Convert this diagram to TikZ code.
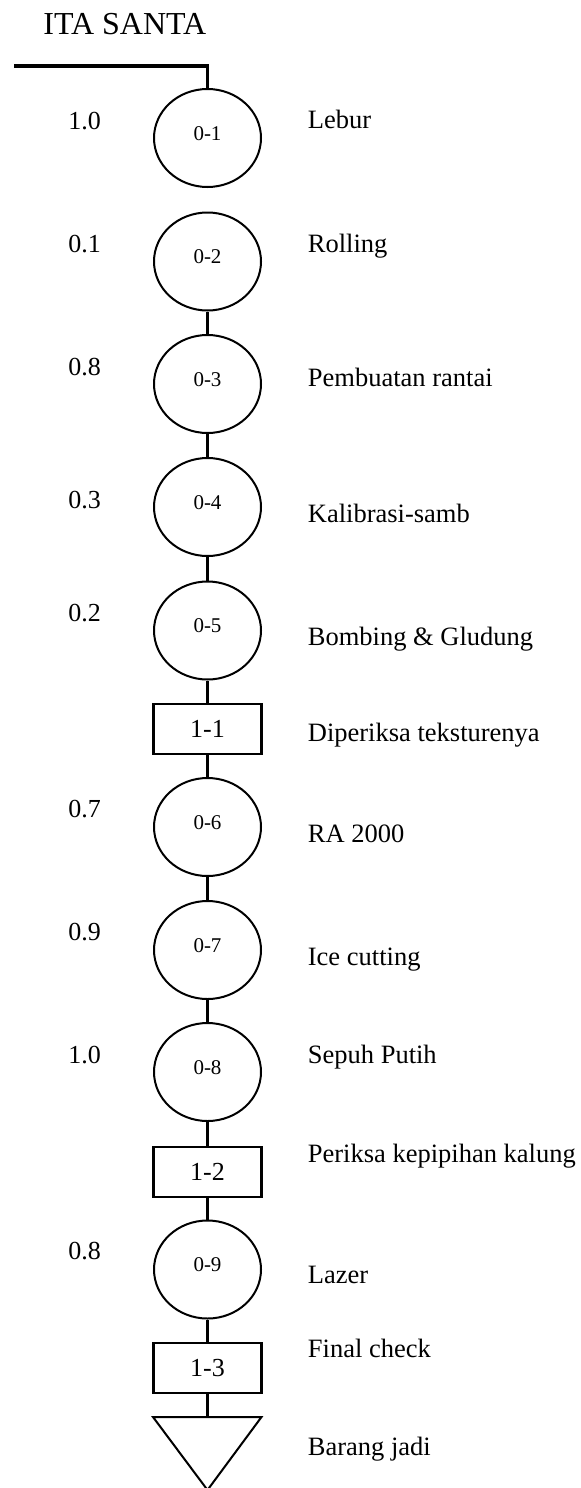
\documentclass[tikz,border=0pt]{standalone}
\usepackage{fontspec}
\setmainfont{Liberation Serif}
\usetikzlibrary{shapes.geometric}
\begin{document}
\begin{tikzpicture}[x=0.5pt,y=-0.5pt,
  proc/.style={ellipse,draw,line width=1pt,minimum width=53.5pt,minimum height=49pt,
    inner sep=0pt,text height=2pt,text depth=0pt,font=\fontsize{10.5}{12}\selectfont},
  insp/.style={rectangle,draw,line width=1.1pt,minimum width=54pt,minimum height=25pt,
    inner sep=0pt,font=\fontsize{13}{15}\selectfont},
  flow/.style={line width=1.8pt},
  timelbl/.style={anchor=base west,inner sep=0pt,font=\fontsize{13}{15}\selectfont},
  steplbl/.style={anchor=base west,inner sep=0pt,font=\fontsize{13.25}{15}\selectfont}]
\useasboundingbox (0,0) rectangle (580,1488);

% title
\node[anchor=base west,inner sep=0pt,font=\fontsize{16}{19}\selectfont] (title) at (43,34) {ITA SANTA};

% operations and inspections
\node[proc] (p1) at (207.5,138) {0-1};
\node[proc] (p2) at (207.5,261.5) {0-2};
\node[proc] (p3) at (207.5,384) {0-3};
\node[proc] (p4) at (207.5,507) {0-4};
\node[proc] (p5) at (207.5,630.5) {0-5};
\node[insp] (i1) at (207.5,729) {1-1};
\node[proc] (p6) at (207.5,827) {0-6};
\node[proc] (p7) at (207.5,950) {0-7};
\node[proc] (p8) at (207.5,1072) {0-8};
\node[insp] (i2) at (207.5,1172) {1-2};
\node[proc] (p9) at (207.5,1269.5) {0-9};
\node[insp] (i3) at (207.5,1368) {1-3};

% storage triangle
\coordinate (storetop) at (207.5,1417);
\draw[line width=1pt,line join=miter] (153,1417) -- (261.5,1417) -- (207.5,1490) -- cycle;

% flow lines
\coordinate (start) at (14,66);
\coordinate (corner) at (207.5,66);
\draw[flow] (start) -- (corner) -- (p1.north);
\draw[flow] (p2) -- (p3);
\draw[flow] (p3) -- (p4);
\draw[flow] (p4) -- (p5);
\draw[flow] (p5) -- (i1);
\draw[flow] (i1) -- (p6);
\draw[flow] (p6) -- (p7);
\draw[flow] (p7) -- (p8);
\draw[flow] (p8) -- (i2);
\draw[flow] (i2) -- (p9);
\draw[flow] (p9) -- (i3);
\draw[flow] (i3) -- (storetop);

% times
\node[timelbl] (t1) at (68,129) {1.0};
\node[timelbl] (t2) at (68,252) {0.1};
\node[timelbl] (t3) at (68,375) {0.8};
\node[timelbl] (t4) at (68,508) {0.3};
\node[timelbl] (t5) at (68,621) {0.2};
\node[timelbl] (t6) at (68,817) {0.7};
\node[timelbl] (t7) at (68,940) {0.9};
\node[timelbl] (t8) at (68,1063) {1.0};
\node[timelbl] (t9) at (68,1259) {0.8};

% step descriptions
\node[steplbl] (d1) at (307.5,128) {Lebur};
\node[steplbl] (d2) at (307.5,252) {Rolling};
\node[steplbl] (d3) at (307.5,386) {Pembuatan rantai};
\node[steplbl] (d4) at (307.5,522) {Kalibrasi-samb};
\node[steplbl] (d5) at (307.5,645) {Bombing \& Gludung};
\node[steplbl] (d6) at (307.5,741) {Diperiksa teksturenya};
\node[steplbl] (d7) at (307.5,842) {RA 2000};
\node[steplbl] (d8) at (307.5,965) {Ice cutting};
\node[steplbl] (d9) at (307.5,1063) {Sepuh Putih};
\node[steplbl] (d10) at (307.5,1162) {Periksa kepipihan kalung};
\node[steplbl] (d11) at (307.5,1283) {Lazer};
\node[steplbl] (d12) at (307.5,1357) {Final check};
\node[steplbl] (d13) at (307.5,1455) {Barang jadi};
\end{tikzpicture}
\end{document}
